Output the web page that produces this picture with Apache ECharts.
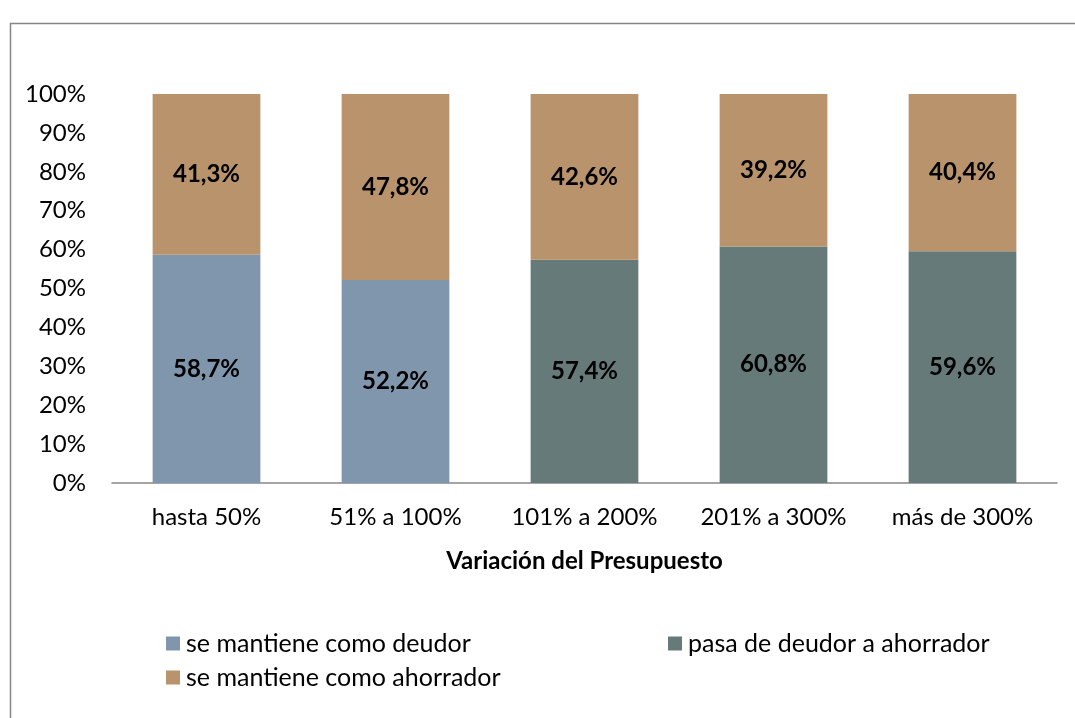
<!DOCTYPE html>
<html>
<head>
<meta charset="utf-8">
<script src="https://cdn.jsdelivr.net/npm/echarts@6/dist/echarts.min.js"></script>
<style>
  html, body { margin: 0; padding: 0; background: #fff; }
  #grafico { width: 1075px; height: 718px; }
</style>
</head>
<body>
<div id="grafico"></div>
<script>
/* datos */
var categorias = ['hasta 50%', '51% a 100%', '101% a 200%', '201% a 300%', 'más de 300%'];
var mantieneDeudor = [58.7, 52.2, '-', '-', '-'];
var pasaAhorrador = ['-', '-', 57.4, 60.8, 59.6];
var mantieneAhorrador = [41.3, 47.8, 42.6, 39.2, 40.4];
var ticksY = [0, 10, 20, 30, 40, 50, 60, 70, 80, 90, 100];

var fuente = 'Lato';

var dom = document.getElementById('grafico');
var myChart = echarts.init(dom);

function fmt(p) {
    return p.value.toFixed(1).replace('.', ',') + '%';
}

var etiqueta = {
    show: true,
    position: 'inside',
    formatter: fmt,
    color: '#000',
    fontFamily: fuente,
    fontWeight: 'bold',
    fontSize: 24
};

var leyendaBase = {
    orient: 'horizontal',
    icon: 'rect',
    itemWidth: 14,
    itemHeight: 14,
    itemGap: 6,
    selectedMode: false,
    textStyle: { fontFamily: fuente, fontSize: 25, color: '#000', padding: [0, 0, 0, 1] }
};

var option = {
    animation: false,
    backgroundColor: '#fff',
    graphic: [{
        type: 'rect',
        shape: { x: 10.5, y: 23.5, width: 1200, height: 900 },
        style: { fill: 'none', stroke: '#868686', lineWidth: 1.5 }
    }],
    legend: [
        Object.assign({}, leyendaBase, { data: ['se mantiene como deudor'], left: 161, top: 626 }),
        Object.assign({}, leyendaBase, { data: ['pasa de deudor a ahorrador'], left: 663, top: 626 }),
        Object.assign({}, leyendaBase, { data: ['se mantiene como ahorrador'], left: 161, top: 660 })
    ],
    grid: { left: 112, right: 18, top: 94, bottom: 235 },
    xAxis: {
        type: 'category',
        data: categorias,
        name: 'Variación del Presupuesto',
        nameLocation: 'middle',
        nameGap: 66,
        nameTextStyle: { fontFamily: fuente, fontWeight: 'bold', fontSize: 24, color: '#000' },
        axisLine: { lineStyle: { color: '#868686', width: 1.5 } },
        axisTick: { show: false },
        axisLabel: { interval: 0, fontFamily: fuente, fontSize: 24, color: '#000', margin: 22 }
    },
    yAxis: {
        type: 'value',
        min: ticksY[0],
        max: ticksY[ticksY.length - 1],
        interval: 10,
        axisLine: { show: false },
        axisTick: { show: false },
        splitLine: { show: false },
        axisLabel: {
            fontFamily: fuente, fontSize: 24, color: '#000', margin: 26,
            formatter: function (v) { return v + '%'; }
        }
    },
    series: [{
        name: 'se mantiene como deudor',
        type: 'bar',
        stack: 'total',
        barWidth: '57%',
        itemStyle: { color: '#7f96ad' },
        label: etiqueta,
        data: mantieneDeudor
    }, {
        name: 'pasa de deudor a ahorrador',
        type: 'bar',
        stack: 'total',
        barWidth: '57%',
        itemStyle: { color: '#667a7a' },
        label: etiqueta,
        data: pasaAhorrador
    }, {
        name: 'se mantiene como ahorrador',
        type: 'bar',
        stack: 'total',
        barWidth: '57%',
        itemStyle: { color: '#b8936b' },
        label: etiqueta,
        data: mantieneAhorrador
    }]
};

myChart.setOption(option, true);
</script>
</body>
</html>
